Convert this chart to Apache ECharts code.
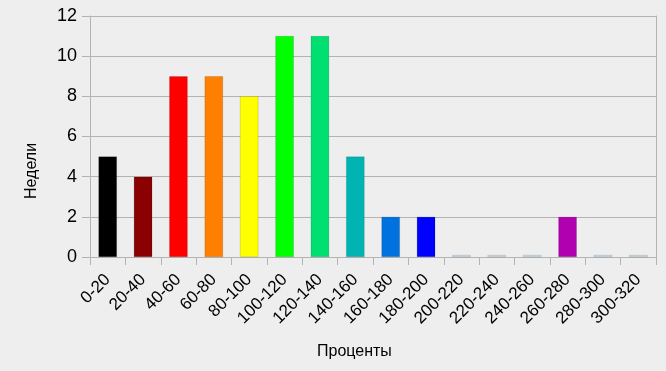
<!DOCTYPE html>
<html><head><meta charset="utf-8">
<script src="https://cdn.jsdelivr.net/npm/echarts@6/dist/echarts.min.js"></script>
<style>html,body{margin:0;padding:0;background:#eeeeee}#c{width:666px;height:371px}</style>
</head><body><div id="c"></div>
<script>
const categories = ['0-20','20-40','40-60','60-80','80-100','100-120','120-140','140-160','160-180','180-200','200-220','220-240','240-260','260-280','280-300','300-320'];
const values = [5,4,9,9,8,11,11,5,2,2,0,0,0,2,0,0];
const colors = ['#000000','#8b0000','#ff0000','#ff8000','#ffff00','#00ff00','#00e070','#00b4b4','#0072e0','#0000ff','#c8e0f0','#c8e0f0','#c8e0f0','#b000b0','#c8e0f0','#c8e0f0'];
const yTicks = {min:0, max:12, interval:2};
const xName = 'Проценты';
const yName = 'Недели';
const chart = echarts.init(document.getElementById('c'));
const font = 'Liberation Sans, Arial, sans-serif';
chart.setOption({
  backgroundColor:'#eeeeee',
  animation:false,
  grid:{left:90, right:10, top:16, bottom:114, containLabel:false},
  graphic:[
    {type:'text', left:317, top:344, style:{text:xName, font:'16px '+font, fill:'#000'}},
    {type:'text', x:24, y:199, rotation:Math.PI/2, style:{text:yName, font:'16px '+font, fill:'#000'}}
  ],
  xAxis:{type:'category', data:categories,
    axisLine:{show:true, lineStyle:{color:'#b3b3b3'}},
    axisTick:{show:true, length:8, alignWithLabel:false, lineStyle:{color:'#b3b3b3'}},
    axisLabel:{rotate:45, fontFamily:font, fontSize:17, color:'#000', interval:0, margin:20}
  },
  yAxis:[{type:'value', min:yTicks.min, max:yTicks.max, interval:yTicks.interval,
    axisLine:{show:true, lineStyle:{color:'#b3b3b3'}},
    axisTick:{show:true, length:8, lineStyle:{color:'#b3b3b3'}},
    splitLine:{show:true, lineStyle:{color:'#b3b3b3'}},
    axisLabel:{fontFamily:font, fontSize:18, color:'#000', margin:13}
  },{type:'value', position:'right', min:yTicks.min, max:yTicks.max, interval:yTicks.interval,
    axisLine:{show:true, lineStyle:{color:'#b3b3b3'}}, axisTick:{show:false}, axisLabel:{show:false}, splitLine:{show:false}}],
  series:[{type:'bar', barWidth:'52%', barMinHeight:2,
    data:values.map((v,i)=>({value:v, itemStyle:{color:colors[i]}})),
    itemStyle:{borderColor:'rgba(0,0,0,0.25)', borderWidth:0.5}
  }]
});
</script></body></html>
